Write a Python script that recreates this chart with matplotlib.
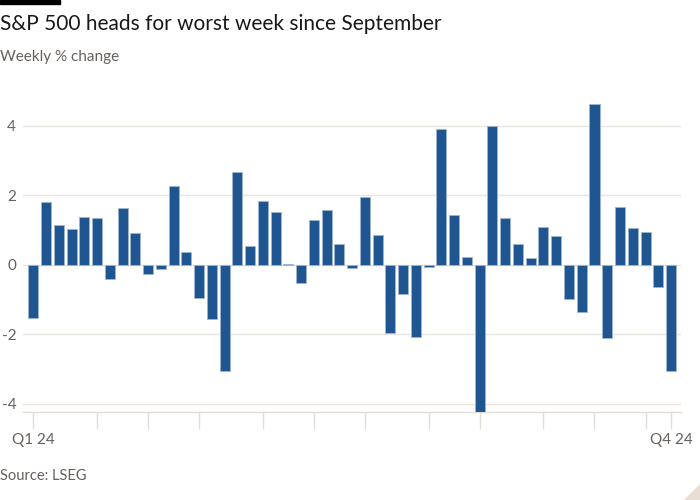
import matplotlib
matplotlib.use("Agg")
import matplotlib.pyplot as plt
import matplotlib.dates as mdates
import pandas as pd
from matplotlib.patches import Polygon, Rectangle

# ---- data ----
values = [-1.53, 1.82, 1.15, 1.04, 1.37, 1.35, -0.42, 1.65, 0.93, -0.27,
          -0.13, 2.26, 0.36, -0.96, -1.56, -3.05, 2.66, 0.54, 1.83, 1.53,
          0.03, -0.52, 1.30, 1.57, 0.59, -0.09, 1.94, 0.85, -1.97, -0.83,
          -2.07, -0.05, 3.91, 1.43, 0.23, -4.25, 4.00, 1.34, 0.60, 0.21,
          1.09, 0.83, -0.97, -1.37, 4.63, -2.09, 1.66, 1.05, 0.94, -0.65,
          -3.05]
week_start = "2024-01-01"
y_ticks = [-4, -2, 0, 2, 4]
first_label = "Q1 24"
last_label = "Q4 24"
title = "S&P 500 heads for worst week since September"
subtitle = "Weekly % change"
source = "Source: LSEG"

weeks = pd.date_range(week_start, periods=len(values), freq="7D")

BAR = "#1f5590"
GRID = "#ebe5e0"
TXT = "#66605c"

plt.rcParams["font.family"] = ["Lato", "DejaVu Sans"]

fig = plt.figure(figsize=(7, 5), dpi=100)
fig.patch.set_facecolor("white")
ax = fig.add_axes([0.033, 0.1755, 0.94, 0.625])

xd = mdates.date2num(weeks)
ax.bar(xd, values, width=5.5, color=BAR, edgecolor="#9fb6cf", linewidth=0.6,
       zorder=3, clip_on=True)

ax.set_xlim(xd[0] - 0.8 * 7, xd[-1] + 0.79 * 7)
ax.set_ylim(-4.24, 4.75)

# month ticks: first week in each month, plus the last week
tick_pos = []
seen = set()
for d, x in zip(weeks, xd):
    if d.month not in seen:
        seen.add(d.month)
        tick_pos.append(x)
if tick_pos[-1] != xd[-1]:
    tick_pos.append(xd[-1])
labels = [""] * len(tick_pos)
labels[0] = first_label
labels[-1] = last_label
ax.set_xticks(tick_pos)
ax.set_xticklabels(labels)

ax.set_yticks(y_ticks)
ax.set_yticklabels([str(t) for t in y_ticks])

for s in ["top", "right", "left"]:
    ax.spines[s].set_visible(False)
ax.spines["bottom"].set_color("#e3ddd8")
ax.spines["bottom"].set_linewidth(1.0)

ax.grid(axis="y", color=GRID, linewidth=1.0, zorder=0)
ax.tick_params(axis="y", length=0, pad=5, labelsize=11, labelcolor=TXT)
ax.tick_params(axis="x", length=12, width=1.0, color="#e3ddd8", pad=3,
               labelsize=11, labelcolor=TXT)
ax.set_facecolor("white")

# header / footer
fig.add_artist(Rectangle((0, 1 - 4 / 500), 60 / 700, 4 / 500,
                         transform=fig.transFigure, color="black"))
fig.text(0.0, 1 - 24 / 500, title, fontsize=15, color="#1a1817",
         va="center", ha="left")
fig.text(0.0, 1 - 57 / 500, subtitle, fontsize=11, color=TXT,
         va="center", ha="left")
fig.text(0.0, 1 - 476 / 500, source, fontsize=10.5, color=TXT,
         va="center", ha="left")
fig.add_artist(Polygon([(1, 0), (1, 15 / 500), (1 - 15 / 700, 0)],
                       closed=True, transform=fig.transFigure,
                       color="#e9ded3"))

fig.savefig("out.png", dpi=100, facecolor="white")
